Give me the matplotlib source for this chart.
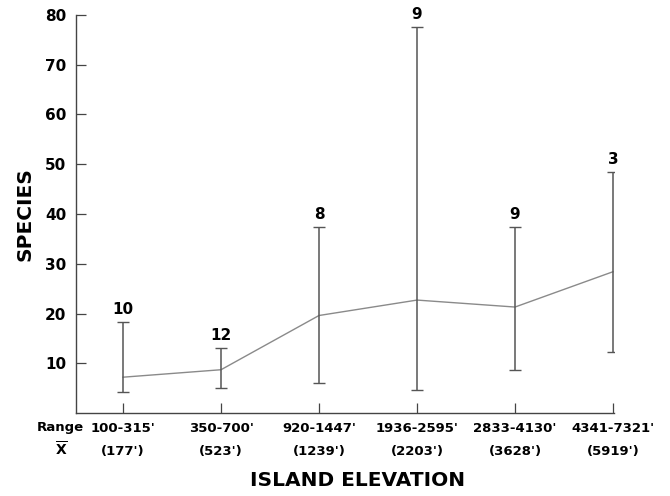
import matplotlib
matplotlib.use("Agg")
import matplotlib.pyplot as plt
import numpy as np

# elevation classes (ranges and mean elevation, feet)
ranges = ["100-315'", "350-700'", "920-1447'", "1936-2595'", "2833-4130'", "4341-7321'"]
means_elev = ["(177')", "(523')", "(1239')", "(2203')", "(3628')", "(5919')"]

# species: mean, min, max and number of islands per class
sp_mean = [7.2, 8.7, 19.6, 22.7, 21.3, 28.4]
sp_min = [4.3, 5.1, 6.1, 4.6, 8.7, 12.3]
sp_max = [18.2, 13.1, 37.3, 77.6, 37.4, 48.5]
n_islands = [10, 12, 8, 9, 9, 3]

plt.rcParams['font.family'] = ['DejaVu Sans']
plt.rcParams['xtick.direction'] = 'in'
plt.rcParams['ytick.direction'] = 'in'

fig = plt.figure(figsize=(6.7, 4.96), dpi=100)
ax = fig.add_axes([0.1134, 0.1673, 0.803, 0.8025])

x = np.arange(len(ranges))
m = np.array(sp_mean)
lo = m - np.array(sp_min)
hi = np.array(sp_max) - m

ax.plot(x, m, color="#8a8a8a", lw=1.0, zorder=2)
ax.errorbar(x, m, yerr=[lo, hi], fmt="none", ecolor="#555555", elinewidth=1.1,
            capsize=4.3, capthick=1.0, zorder=3)

for xi, top, n in zip(x, sp_max, n_islands):
    ax.annotate(str(n), (xi, top), xytext=(0, 9), textcoords="offset points",
                ha="center", va="center", fontsize=11, fontweight="bold")

ax.set_xlim(-0.48, 5.01)
ax.set_ylim(0, 80)
ax.set_yticks([10, 20, 30, 40, 50, 60, 70, 80])
ax.tick_params(axis="y", direction="in", length=7, width=0.9, pad=7,
               labelsize=11, colors="#444444", labelcolor="black")
for lab in ax.get_yticklabels():
    lab.set_fontweight("bold")

ax.set_xticks(x)
ax.set_xticklabels([])
ax.tick_params(axis="x", direction="in", length=7, width=0.9, colors="#444444")

for s in ["top", "right"]:
    ax.spines[s].set_visible(False)
for s in ["left", "bottom"]:
    ax.spines[s].set_color("#444444")
    ax.spines[s].set_linewidth(1.0)

tr = ax.get_xaxis_transform()
for xi, r, me in zip(x, ranges, means_elev):
    ax.annotate(r, (xi, 0), xycoords=tr, xytext=(0, -11.5), textcoords="offset points",
                ha="center", va="center", fontsize=9.5, fontweight="bold")
    ax.annotate(me, (xi, 0), xycoords=tr, xytext=(0, -27.5), textcoords="offset points",
                ha="center", va="center", fontsize=9.5, fontweight="bold")

fig.text(60 / 670, 1 - 428 / 496, "Range", ha="center", va="center",
         fontsize=9.5, fontweight="bold")
fig.text(61 / 670, 1 - 449 / 496, r"$\overline{\mathbf{X}}$", ha="center", va="center",
         fontsize=10)

fig.text(358 / 670, 1 - 481 / 496, "ISLAND ELEVATION", ha="center", va="center",
         fontsize=14.5, fontweight="heavy")
fig.text(25 / 670, 1 - 214 / 496, "SPECIES", ha="center", va="center",
         rotation=90, fontsize=14.5, fontweight="heavy")

fig.savefig("out.png", dpi=100)
